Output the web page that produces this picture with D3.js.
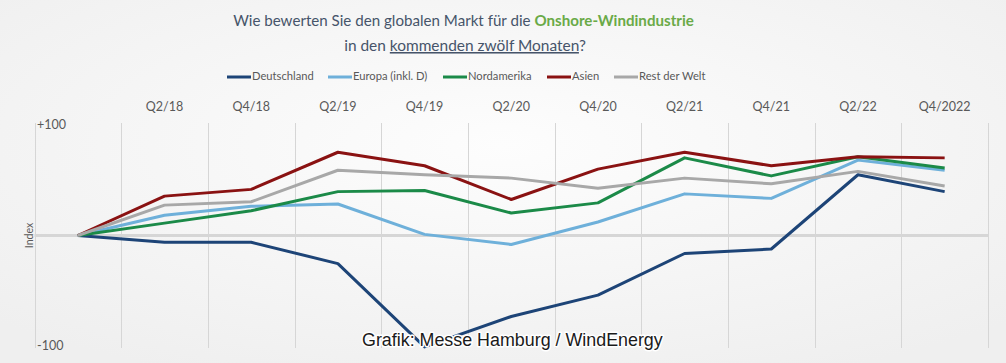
<!DOCTYPE html>
<html><head><meta charset="utf-8">
<script src="https://cdn.jsdelivr.net/npm/d3@7"></script>
<style>html,body{margin:0;padding:0;background:#f3f3f3;}svg{display:block;}</style>
</head><body>
<svg id="chart" width="1006" height="363"></svg>
<script>
// ---- data ----
const categories = ["Q4/17","Q2/18","Q4/18","Q2/19","Q4/19","Q2/20","Q4/20","Q2/21","Q4/21","Q2/22","Q4/2022"];
const tickLabels = ["","Q2/18","Q4/18","Q2/19","Q4/19","Q2/20","Q4/20","Q2/21","Q4/21","Q2/22","Q4/2022"];
const seriesNames = ["Deutschland","Europa (inkl. D)","Nordamerika","Asien","Rest der Welt"];
const deutschland = [0,-6,-6,-25,-99,-72,-53,-16,-12,54,39];
const europa      = [0,18,26,28,1,-8,12,37,33,67,58];
const nordamerika = [0,11,22,39,40,20,29,69,53,70,60];
const asien       = [0,35,41,74,62,32,59,74,62,70,69];
const restDerWelt = [0,27,30,58,54,51,42,51,46,57,44];
const yTicks = [100,-100];
const yTickLabels = ["+100","-100"];

const seriesValues = [deutschland, europa, nordamerika, asien, restDerWelt];
const colors = ["#1d4477","#6eb0da","#1b8a48","#8a1212","#a8a8a8"];

const svg = d3.select("#chart");
const W = 1006, H = 363;

// background
const defs = svg.append("defs");
const rg = defs.append("radialGradient").attr("id","bg").attr("cx","50%").attr("cy","40%").attr("r","70%");
rg.append("stop").attr("offset","0%").attr("stop-color","#fdfdfd");
rg.append("stop").attr("offset","100%").attr("stop-color","#efefef");
svg.append("rect").attr("width",W).attr("height",H).attr("fill","url(#bg)");

const x = d3.scaleBand().domain(categories).range([34.5, 988]).paddingInner(0).paddingOuter(0);
const y = d3.scaleLinear().domain([-100,100]).range([348,123]);
const cx = c => x(c) + x.bandwidth()/2;

// vertical gridlines at band boundaries
const bounds = categories.map(c => x(c)).concat([x.range()[1]]);
svg.append("g").selectAll("line").data(bounds).join("line")
  .attr("x1", d=>Math.round(d)+0.5).attr("x2", d=>Math.round(d)+0.5)
  .attr("y1", y(100)).attr("y2", y(-100))
  .attr("stroke","#d6d6d6").attr("stroke-width",1);

// zero line
svg.append("line").attr("x1", x.range()[0]).attr("x2", x.range()[1])
  .attr("y1", y(0)).attr("y2", y(0)).attr("stroke","#d6d6d6").attr("stroke-width",3);

// x axis labels (top)
const xAxis = d3.axisTop(x).tickSize(0).tickFormat((d,i)=>tickLabels[i]);
const gx = svg.append("g").attr("transform","translate(0,114)").call(xAxis);
gx.select(".domain").remove();
gx.selectAll("text").attr("font-family","Lato, 'Open Sans', sans-serif").attr("font-size",12.5).attr("fill","#595959");

// y tick labels
svg.append("g").selectAll("text").data(yTicks).join("text")
  .attr("x", 37).attr("y", (d,i)=> y(d) + (i===0?2.5:-1))
  .attr("dominant-baseline","middle")
  .attr("font-family","Lato, 'Open Sans', sans-serif").attr("font-size",12.5).attr("fill","#595959")
  .text((d,i)=>yTickLabels[i]);

// Index label
svg.append("text").attr("transform",`translate(30,${y(0)}) rotate(-90)`)
  .attr("text-anchor","middle").attr("dominant-baseline","middle")
  .attr("font-family","Lato, 'Open Sans', sans-serif").attr("font-size",10.5).attr("fill","#595959")
  .text("Index");

// lines
const line = d3.line().x((d,i)=>cx(categories[i])).y(d=>y(d));
svg.append("g").selectAll("path").data(seriesValues).join("path")
  .attr("d", line).attr("fill","none")
  .attr("stroke",(d,i)=>colors[i]).attr("stroke-width",3)
  .attr("stroke-linejoin","round").attr("stroke-linecap","butt");

// legend
const legendX = [227, 328, 443, 547, 614];
const lg = svg.append("g").selectAll("g").data(seriesNames).join("g")
  .attr("transform",(d,i)=>`translate(${legendX[i]},77)`);
lg.append("line").attr("x1",0).attr("x2",24).attr("y1",0).attr("y2",0)
  .attr("stroke",(d,i)=>colors[i]).attr("stroke-width",3);
lg.append("text").attr("x",25).attr("y",0).attr("dominant-baseline","middle")
  .attr("font-family","Lato, 'Open Sans', sans-serif").attr("font-size",11.2).attr("fill","#595959")
  .text(d=>d);

// title
function fitText(sel, target){
  const w = sel.node().getComputedTextLength();
  const fs = parseFloat(sel.attr("font-size"));
  sel.attr("font-size", fs*target/w);
}
const titleColor = "#46546a";
const t1 = svg.append("text").attr("x",463.5).attr("y",26).attr("text-anchor","middle")
  .attr("font-family","Lato, 'Open Sans', sans-serif").attr("font-size",17).attr("fill",titleColor);
t1.append("tspan").text("Wie bewerten Sie den globalen Markt für die ");
t1.append("tspan").attr("fill","#6aaa48").attr("font-weight","bold").text("Onshore-Windindustrie");
fitText(t1, 461);
const t2 = svg.append("text").attr("x",465).attr("y",51).attr("text-anchor","middle")
  .attr("font-family","Lato, 'Open Sans', sans-serif").attr("font-size",17).attr("fill",titleColor);
t2.append("tspan").text("in den ");
t2.append("tspan").attr("text-decoration","underline").text("kommenden zwölf Monaten");
t2.append("tspan").text("?");
fitText(t2, 242);

// watermark
const wm = svg.append("text").attr("x",362).attr("y",346)
  .attr("font-family","'Liberation Sans', Arial, sans-serif").attr("font-size",18)
  .attr("fill","#1a1a1a").attr("stroke","#ffffff").attr("stroke-width",3)
  .attr("paint-order","stroke").attr("stroke-linejoin","round")
  .text("Grafik: Messe Hamburg / WindEnergy");
fitText(wm, 301);
</script>
</body></html>
